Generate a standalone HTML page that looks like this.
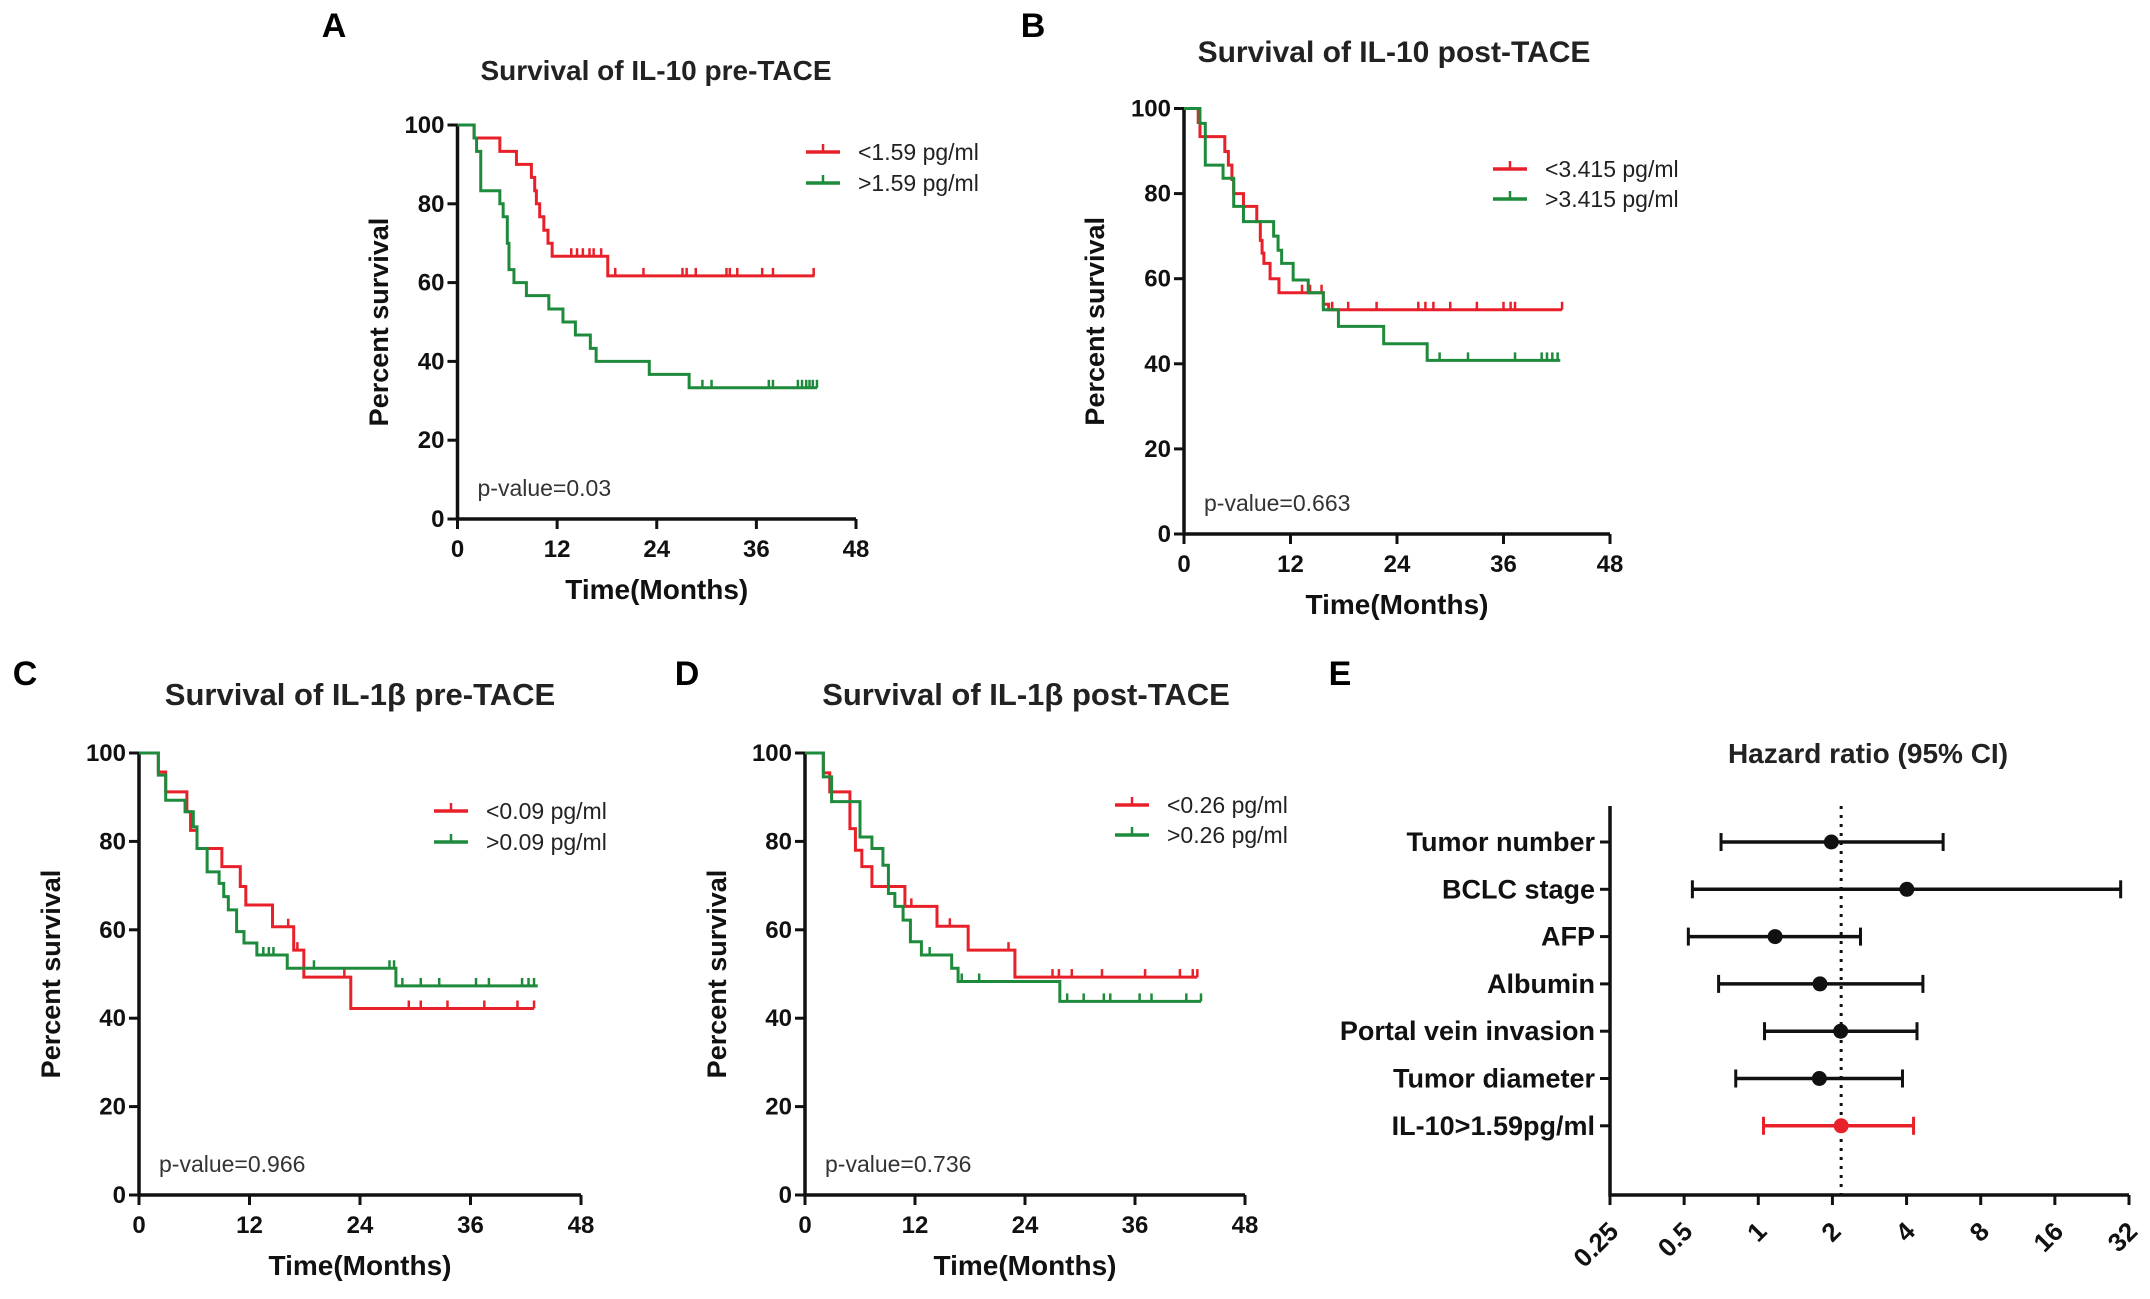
<!DOCTYPE html>
<html><head><meta charset="utf-8"><style>
html,body{margin:0;padding:0;background:#fff}
svg{display:block;font-family:"Liberation Sans",Arial,sans-serif}
</style></head><body>
<svg id="fig" width="2150" height="1299" viewBox="0 0 2150 1299" xmlns="http://www.w3.org/2000/svg"></svg>
<script>
// ---- Panel A data ----
const aRedT=[0,2.0,5.1,7.1,8.9,9.3,9.5,9.9,10.4,10.9,11.4,18.1,43];
const aRedS=[100,96.7,93.3,90,86.7,83.3,80,76.7,73.3,70,66.7,61.7,61.7];
const aRedC=[13.7,14.4,15.1,15.9,16.4,17.3,19,22.4,27.1,27.6,28.7,32.4,32.8,33.7,36.7,38,42.9];
const aGrnT=[0,2,2.3,2.8,5.1,5.5,6.0,6.2,6.8,8.3,11,12.7,14.2,16,16.7,23.1,27.9,43.3];
const aGrnS=[100,96.7,93.3,83.3,80,76.7,70,63.3,60,56.7,53.3,50,46.7,43.3,40,36.7,33.3,33.3];
const aGrnC=[29.5,30.6,37.5,38,41,41.5,42,42.4,42.8,43.3];
// ---- Panel B data ----
const bRedT=[0,1.6,1.8,4.6,5.0,5.4,5.6,6.7,8.2,8.6,8.8,9.0,9.7,10.7,15.7,16.3,42.6];
const bRedS=[100,96.7,93.4,89.9,86.7,83.3,80,77,73.4,69,66,63.6,60,56.7,54,52.7,52.7];
const bRedC=[13.3,14.2,15.5,16.7,18.5,21.7,26.4,27.2,28.1,30,33,36,36.8,37.3,42.6];
const bGrnT=[0,1.8,2.4,4.4,5.6,6.7,10.1,10.6,11.0,12.3,14,15.7,17.4,22.5,27.4,42.4];
const bGrnS=[100,96.5,86.7,83.6,77,73.4,70,66.7,63.6,59.7,56.7,52.7,48.8,44.7,40.8,40.8];
const bGrnC=[28.8,32,37.3,40.3,40.9,41.5,42.1];
// ---- Panel C data ----
const cRedT=[0,2.1,2.9,5.2,5.6,6.3,9.0,11,11.6,14.5,16.8,17.9,23,42.9];
const cRedS=[100,95.7,91.2,86.7,82.5,78.4,74.3,69.8,65.6,60.7,55.4,49.3,42.2,42.2];
const cRedC=[11.6,16.2,17.2,22.3,29.3,30.6,33.5,37.5,41.1,42.9];
const cGrnT=[0,2.1,2.9,5.0,5.9,6.3,7.4,8.7,9.2,9.7,10.6,11.4,12.8,16.1,27.9,43.3];
const cGrnS=[100,95,89.3,86.7,83.3,78.4,73.1,70.5,67.5,64.5,59.6,57,54.3,51.3,47.3,47.3];
const cGrnC=[13.5,14.1,14.6,19,27.2,27.7,28.6,30.6,32.6,36.6,38,41.6,42.3,42.9];
// ---- Panel D data ----
const dRedT=[0,2.0,2.7,4.9,5.5,6.2,7.3,10.9,14.4,17.8,22.9,42.8];
const dRedS=[100,95.5,91.2,82.9,78,74.3,69.8,65.3,60.8,55.4,49.3,49.3];
const dRedC=[11.6,15.8,22.2,27,27.7,29.1,32.4,37.1,40.9,42.3,42.8];
const dGrnT=[0,2.0,2.9,6.0,7.3,8.5,9.1,9.8,10.7,11.5,12.7,16,16.7,27.8,43.2];
const dGrnS=[100,94.6,89,81,78.4,74.6,68.2,65.3,62.2,57.3,54.3,51.3,48.3,43.8,43.8];
const dGrnC=[13.6,17.1,19,28.6,30.4,32.6,33.3,36.5,37.8,41.6,43.2];
// ---- Panel E (forest) data ----
const hrLabels=["Tumor number","BCLC stage","AFP","Albumin","Portal vein invasion","Tumor diameter","IL-10>1.59pg/ml"];
const hrPoint=[1.98,4.01,1.17,1.78,2.16,1.77,2.17];
const hrLow=[0.706,0.54,0.52,0.69,1.06,0.81,1.05];
const hrHigh=[5.63,29.6,2.6,4.66,4.41,3.85,4.27];
const hrTicks=["0.25","0.5","1","2","4","8","16","32"];
const hrRef=2.17;
const kmXTicks=[0,12,24,36,48];
const kmYTicks=[0,20,40,60,80,100];

const NS="http://www.w3.org/2000/svg";
const svg=document.getElementById('fig');
const RED="#e8202a", GRN="#1e8a3c";
function mk(tag,attrs,parent){const e=document.createElementNS(NS,tag);for(const k in attrs)e.setAttribute(k,attrs[k]);(parent||svg).appendChild(e);return e;}
function txt(s,attrs,parent){const e=mk('text',attrs,parent);e.textContent=s;return e;}

function stepVal(T,S,t){let v=S[0];for(let i=0;i<T.length;i++){if(T[i]<=t)v=S[i];}return v;}

function km(p){
  const g=mk('g',{});
  
  
  const X=t=>p.x0+(p.x1-p.x0)*t/48, Y=v=>p.yB-(p.yB-p.yT)*v/100;
  const l=txt(p.letter,{x:p.lx,y:p.ly,'font-size':34,'font-weight':'bold','text-anchor':'middle'},g);
  
  const t=txt(p.title,{x:p.tx,y:p.ty,'font-size':p.tfs,'font-weight':'bold','text-anchor':'middle',fill:'#222'},g);
  
  const ax=mk('path',{d:`M${p.x0},${p.yT} V${p.yB} H${p.x1}`,stroke:'#111','stroke-width':3.5,fill:'none'},g);
  
  kmYTicks.forEach(v=>{
    mk('line',{x1:p.x0-10,x2:p.x0,y1:Y(v),y2:Y(v),stroke:'#111','stroke-width':3},g);
    const e=txt(String(v),{x:p.x0-13,y:Y(v)+8,'font-size':24,'font-weight':'bold','text-anchor':'end',fill:'#111'},g);
    
  });
  kmXTicks.forEach(v=>{
    mk('line',{x1:X(v),x2:X(v),y1:p.yB,y2:p.yB+10,stroke:'#111','stroke-width':3},g);
    const e=txt(String(v),{x:X(v),y:p.yB+38,'font-size':24,'font-weight':'bold','text-anchor':'middle',fill:'#111'},g);
    
  });
  const xt=txt('Time(Months)',{x:(p.x0+p.x1)/2,y:p.yB+80,'font-size':28,'font-weight':'bold','text-anchor':'middle',fill:'#111'},g);
  
  const cy=(p.yT+p.yB)/2;
  const yt=txt('Percent survival',{x:p.ytx,y:cy,'font-size':27,'font-weight':'bold','text-anchor':'middle',fill:'#111',transform:`rotate(-90 ${p.ytx} ${cy})`},g);
  
  const pv=txt(p.pval,{x:p.x0+20,y:p.yB-23,'font-size':23,fill:'#333'},g);
  
  p.series.forEach((s,si)=>{
    let d=`M${X(s.T[0])},${Y(s.S[0])}`;
    for(let i=1;i<s.T.length;i++){d+=` H${X(s.T[i])} V${Y(s.S[i])}`;}
    const path=mk('path',{d:d,stroke:s.c,'stroke-width':3,fill:'none'},g);
    
    s.C.forEach(ct=>{
      const yy=Y(stepVal(s.T,s.S,ct));
      const m=mk('line',{x1:X(ct),x2:X(ct),y1:yy-8,y2:yy,stroke:s.c,'stroke-width':2.5},g);
      
    });
    const ly=p.legY[si];
    const lg=mk('g',{},g);
    
    mk('line',{x1:p.legX,x2:p.legX+34,y1:ly,y2:ly,stroke:s.c,'stroke-width':3.5},lg);
    mk('line',{x1:p.legX+17,x2:p.legX+17,y1:ly-8,y2:ly,stroke:s.c,'stroke-width':2.5},lg);
    txt(s.label,{x:p.legX+52,y:ly+8,'font-size':23,fill:'#222'},lg);
  });
}

km({id:'a',letter:'A',lx:334,ly:37,title:'Survival of IL-10 pre-TACE',tfs:28,tx:656,ty:80,x0:457.5,x1:856,yT:125,yB:519,ytx:388,pval:'p-value=0.03',legX:806,legY:[152,183],
  series:[{T:aRedT,S:aRedS,C:aRedC,c:RED,n:'low',label:'<1.59 pg/ml'},{T:aGrnT,S:aGrnS,C:aGrnC,c:GRN,n:'high',label:'>1.59 pg/ml'}]});
km({id:'b',letter:'B',lx:1033,ly:37,title:'Survival of IL-10 post-TACE',tfs:30,tx:1394,ty:62,x0:1184,x1:1610,yT:108.5,yB:534,ytx:1104,pval:'p-value=0.663',legX:1493,legY:[169,199],
  series:[{T:bRedT,S:bRedS,C:bRedC,c:RED,n:'low',label:'<3.415 pg/ml'},{T:bGrnT,S:bGrnS,C:bGrnC,c:GRN,n:'high',label:'>3.415 pg/ml'}]});
km({id:'c',letter:'C',lx:25,ly:685,title:'Survival of IL-1β pre-TACE',tfs:31,tx:360,ty:705,x0:139,x1:581,yT:753,yB:1195,ytx:60,pval:'p-value=0.966',legX:434,legY:[811,842],
  series:[{T:cRedT,S:cRedS,C:cRedC,c:RED,n:'low',label:'<0.09 pg/ml'},{T:cGrnT,S:cGrnS,C:cGrnC,c:GRN,n:'high',label:'>0.09 pg/ml'}]});
km({id:'d',letter:'D',lx:687,ly:685,title:'Survival of IL-1β post-TACE',tfs:31,tx:1026,ty:705,x0:805,x1:1245,yT:753,yB:1195,ytx:726,pval:'p-value=0.736',legX:1115,legY:[805,835],
  series:[{T:dRedT,S:dRedS,C:dRedC,c:RED,n:'low',label:'<0.26 pg/ml'},{T:dGrnT,S:dGrnS,C:dGrnC,c:GRN,n:'high',label:'>0.26 pg/ml'}]});

(function(){
  const g=mk('g',{});
  
  
  const x0=1610,x1=2129,yT=806,yB=1195,rowY0=842,rowStep=47.3;
  const X=v=>x0+(x1-x0)*(Math.log2(v)+2)/7;
  const l=txt('E',{x:1340,y:685,'font-size':34,'font-weight':'bold','text-anchor':'middle'},g);
  
  const t=txt('Hazard ratio (95% CI)',{x:1868,y:763,'font-size':28,'font-weight':'bold','text-anchor':'middle',fill:'#222'},g);
  
  const ax=mk('path',{d:`M${x0},${yT} V${yB} H${x1}`,stroke:'#111','stroke-width':3.5,fill:'none'},g);
  
  const ref=mk('line',{x1:X(hrRef),x2:X(hrRef),y1:yT,y2:yB,stroke:'#111','stroke-width':3,'stroke-dasharray':'3 6'},g);
  
  hrTicks.forEach(s=>{
    const v=parseFloat(s),xx=X(v);
    mk('line',{x1:xx,x2:xx,y1:yB,y2:yB+10,stroke:'#111','stroke-width':3},g);
    const e=txt(s,{x:xx+10,y:yB+38,'font-size':26,'font-weight':'bold','text-anchor':'end',fill:'#111',transform:`rotate(-45 ${xx+10} ${yB+38})`},g);
    
  });
  hrLabels.forEach((lab,i)=>{
    const y=rowY0+i*rowStep;
    const c=(i===hrLabels.length-1)?RED:'#111';
    mk('line',{x1:x0-10,x2:x0,y1:y,y2:y,stroke:'#111','stroke-width':3},g);
    const e=txt(lab,{x:x0-15,y:y+9,'font-size':27,'font-weight':'bold','text-anchor':'end',fill:'#111'},g);
    
    const r=mk('g',{},g);
    
    mk('line',{x1:X(hrLow[i]),x2:X(hrHigh[i]),y1:y,y2:y,stroke:c,'stroke-width':3.5},r);
    mk('line',{x1:X(hrLow[i]),x2:X(hrLow[i]),y1:y-9,y2:y+9,stroke:c,'stroke-width':3},r);
    mk('line',{x1:X(hrHigh[i]),x2:X(hrHigh[i]),y1:y-9,y2:y+9,stroke:c,'stroke-width':3},r);
    mk('circle',{cx:X(hrPoint[i]),cy:y,r:7.5,fill:c},r);
  });
})();
</script>
</body></html>
